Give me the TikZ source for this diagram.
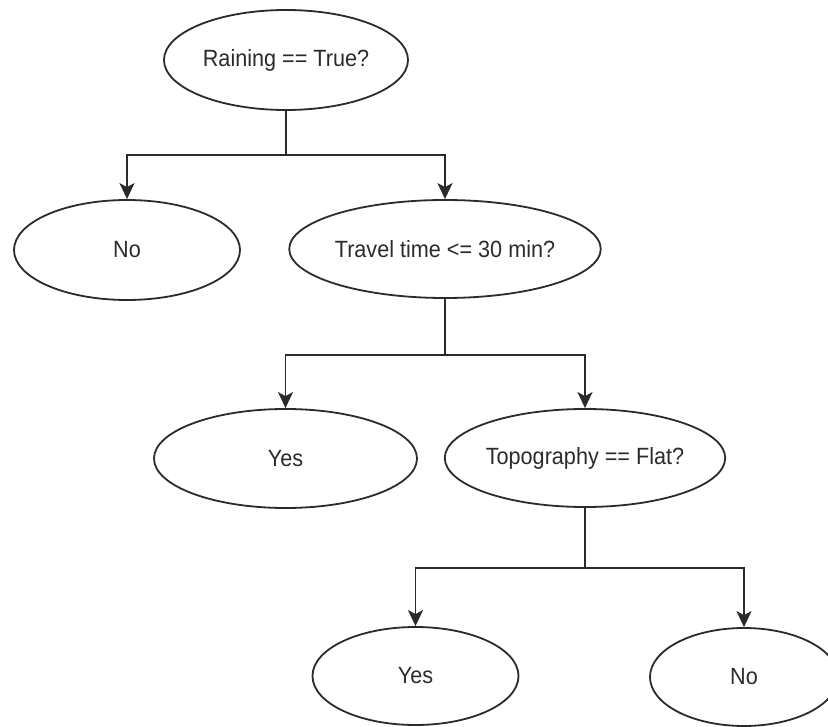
\documentclass[tikz,border=0pt]{standalone}
\usepackage{fontspec}
\setmainfont[FakeStretch=0.92]{Liberation Sans}
\usetikzlibrary{shapes.geometric,arrows.meta}
\definecolor{linec}{HTML}{2B2B2B}
\definecolor{textc}{HTML}{2B2B2B}
\begin{document}
\begin{tikzpicture}[x=1pt,y=-1pt,
  oval/.style={ellipse, draw=linec, line width=1.8pt, fill=white, inner sep=0pt,
    text=textc, font=\fontsize{23.5}{27}\selectfont},
  link/.style={draw=linec, line width=1.8pt},
  arr/.style={link, -{Stealth[length=16pt,width=15pt,inset=4pt]}}]
\useasboundingbox (0,0) rectangle (828,727);
\fill[white] (0,0) rectangle (828,727);
\clip (0,0) rectangle (828,727);

\node[oval, minimum width=244pt, minimum height=100pt] (r)  at (286,60)    {Raining == True?};
\node[oval, minimum width=226pt, minimum height=100pt] (n1) at (127,250)   {No};
\node[oval, minimum width=264pt, minimum height=98pt]  (t)  at (445,249)   {Travel time <= 30 min?};
\node[oval, minimum width=263pt, minimum height=99pt]  (y1) at (285.5,458.5) {Yes};
\node[oval, minimum width=244pt, minimum height=98pt]  (f)  at (585,458)   {Topography == Flat?};
\node[oval, minimum width=206pt, minimum height=98pt]  (y2) at (415.5,676) {Yes};
\node[oval, minimum width=188pt, minimum height=98pt]  (n2) at (744,677)   {No};

\coordinate (j1) at (r.south |- 0,155);
\coordinate (j2) at (t.south |- 0,355);
\coordinate (j3) at (f.south |- 0,568);

\draw[link] (r.south) -- (j1);
\draw[arr] (j1) -| (n1.north);
\draw[arr] (j1) -| (t.north);

\draw[link] (t.south) -- (j2);
\draw[arr] (j2) -| (y1.north);
\draw[arr] (j2) -| (f.north);

\draw[link] (f.south) -- (j3);
\draw[arr] (j3) -| (y2.north);
\draw[arr] (j3) -| (n2.north);
\end{tikzpicture}
\end{document}
